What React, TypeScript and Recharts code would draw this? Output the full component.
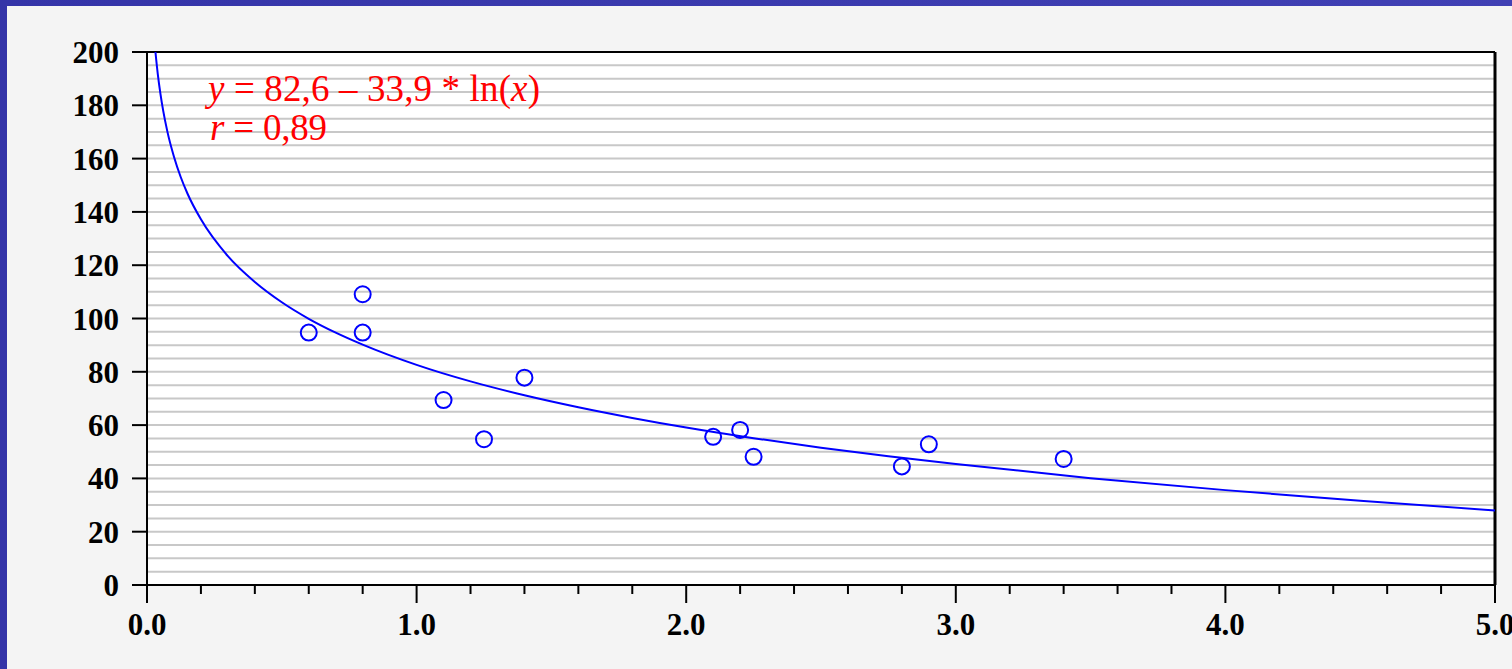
import React from 'react';
import { ComposedChart, XAxis, YAxis, Line, Scatter, ReferenceLine, ReferenceArea } from 'recharts';

const pointX = [0.6, 0.8, 0.8, 1.1, 1.25, 1.4, 2.1, 2.2, 2.25, 2.8, 2.9, 3.4];
const pointY = [94.7, 109.1, 94.7, 69.4, 54.7, 77.8, 55.6, 58.2, 48.1, 44.5, 52.8, 47.3];

const curveX = [0.0313, 0.04, 0.05, 0.06, 0.075, 0.1, 0.125, 0.15, 0.2, 0.3, 0.4, 0.5, 0.6, 0.7, 0.8, 1.0, 1.2, 1.4, 1.6, 1.8, 2.0, 2.25, 2.5, 2.75, 3.0, 3.5, 4.0, 4.5, 5.0];
const curveY = [200, 191.7, 184.2, 178.0, 170.4, 160.7, 153.1, 146.9, 137.2, 123.4, 113.7, 106.1, 99.9, 94.7, 90.2, 82.6, 76.4, 71.2, 66.7, 62.7, 59.1, 55.1, 51.5, 48.3, 45.4, 40.1, 35.6, 31.6, 28.0];

const xTicks = [0, 0.2, 0.4, 0.6, 0.8, 1, 1.2, 1.4, 1.6, 1.8, 2, 2.2, 2.4, 2.6, 2.8, 3, 3.2, 3.4, 3.6, 3.8, 4, 4.2, 4.4, 4.6, 4.8, 5];
const yTicks = [0, 20, 40, 60, 80, 100, 120, 140, 160, 180, 200];
const gridValues = [5, 10, 15, 20, 25, 30, 35, 40, 45, 50, 55, 60, 65, 70, 75, 80, 85, 90, 95, 100, 105, 110, 115, 120, 125, 130, 135, 140, 145, 150, 155, 160, 165, 170, 175, 180, 185, 190, 195];

const points = pointX.map((x, i) => ({ x, y: pointY[i] }));
const curve = curveX.map((x, i) => ({ x, y: curveY[i] }));

const tickFont = '"Liberation Serif", "Times New Roman", serif';

const XTick = (props: any) => {
  const { x, y, payload } = props;
  const v = payload.value as number;
  const major = Math.abs(v - Math.round(v)) < 1e-6;
  return (
    <g>
      <line x1={x} y1={y} x2={x} y2={y + (major ? 18 : 9)} stroke="#000" strokeWidth={2} />
      {major && (
        <text x={x} y={y + 50} textAnchor="middle" fontFamily={tickFont} fontWeight="bold" fontSize={31} fill="#000">
          {v.toFixed(1)}
        </text>
      )}
    </g>
  );
};

const Circle = (props: any) => {
  const { cx, cy } = props;
  if (cx == null || cy == null) return null;
  return <circle cx={cx} cy={cy} r={8} fill="none" stroke="#0000ff" strokeWidth={2} />;
};

export default function App() {
  return (
    <div style={{ position: 'absolute', left: 0, top: 0, width: 1512, height: 669, overflow: 'hidden', background: 'linear-gradient(90deg, #3434a8, #4040b4)' }}>
      <div style={{ position: 'absolute', left: 7, top: 6, width: 1505, height: 663, background: '#f4f4f4' }} />
      <div style={{ position: 'absolute', left: 0, top: 0 }}>
        <ComposedChart width={1512} height={669} margin={{ top: 52, right: 17, bottom: 44, left: 87 }}>
          <XAxis
            dataKey="x"
            type="number"
            domain={[0, 5]}
            ticks={xTicks}
            interval={0}
            height={40}
            tickSize={0}
            tickMargin={0}
            tickLine={false}
            tick={<XTick />}
            axisLine={{ stroke: '#000', strokeWidth: 2 }}
            allowDataOverflow
          />
          <YAxis
            dataKey="y"
            type="number"
            domain={[0, 200]}
            ticks={yTicks}
            interval={0}
            width={60}
            tickSize={15}
            tickMargin={13}
            tickLine={{ stroke: '#000', strokeWidth: 2 }}
            axisLine={{ stroke: '#000', strokeWidth: 2 }}
            tick={{ fontFamily: tickFont, fontWeight: 'bold', fontSize: 31, fill: '#000' }}
            allowDataOverflow
          />
          <ReferenceArea x1={0} x2={5} y1={0} y2={200} fill="#ffffff" fillOpacity={1} stroke="none" />
          {gridValues.map((g) => (
            <ReferenceLine key={g} y={g} stroke="#c8c8c8" strokeWidth={2} />
          ))}
          <ReferenceLine y={200} stroke="#000" strokeWidth={2} />
          <ReferenceLine x={5} stroke="#000" strokeWidth={3} />
          <Line data={curve} dataKey="y" type="monotone" stroke="#0000ff" strokeWidth={2} dot={false} isAnimationActive={false} />
          <Scatter data={points} dataKey="y" shape={<Circle />} isAnimationActive={false} />
        </ComposedChart>
      </div>
      <svg width={1512} height={669} style={{ position: 'absolute', left: 0, top: 0, pointerEvents: 'none' }}>
        <text x={208} y={101} fontFamily={tickFont} fontSize={37} fill="#ff0000" textLength={332} lengthAdjust="spacing">
          <tspan fontStyle="italic">y</tspan> = 82,6 – 33,9 * ln(<tspan fontStyle="italic">x</tspan>)
        </text>
        <text x={210} y={139.5} fontFamily={tickFont} fontSize={37} fill="#ff0000" textLength={117} lengthAdjust="spacing">
          <tspan fontStyle="italic">r</tspan> = 0,89
        </text>
      </svg>
    </div>
  );
}
